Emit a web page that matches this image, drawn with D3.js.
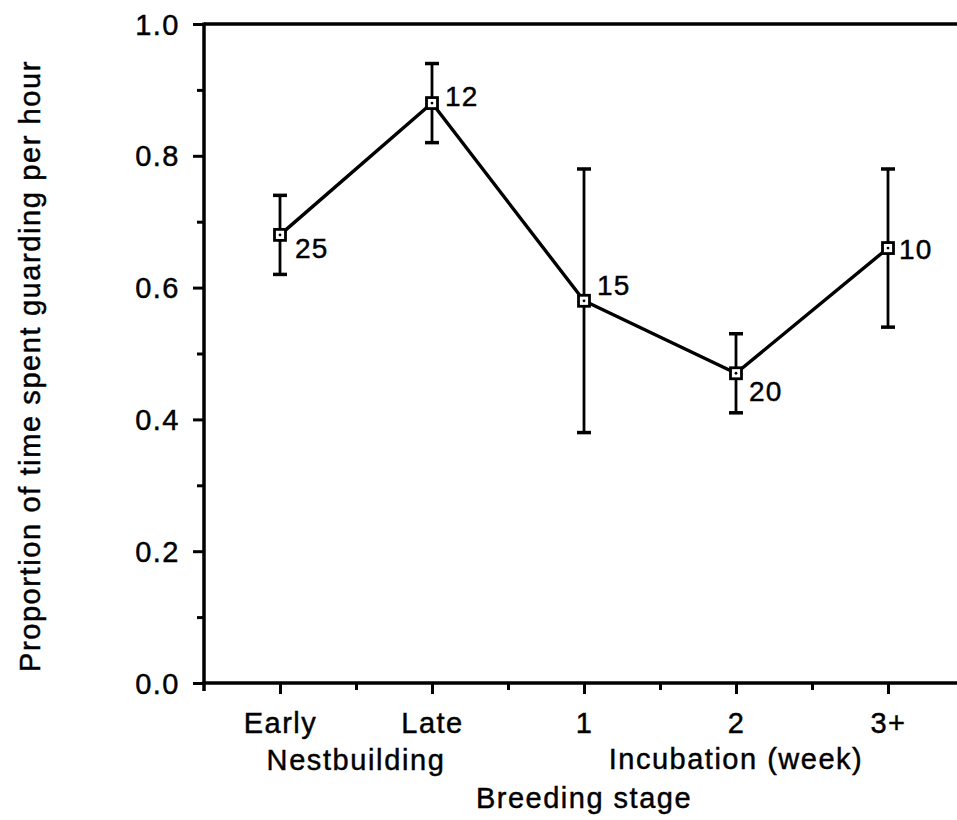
<!DOCTYPE html>
<html>
<head>
<meta charset="utf-8">
<script src="https://cdn.jsdelivr.net/npm/d3@7"></script>
<style>
  html, body { margin: 0; padding: 0; background: #fff; }
  svg { display: block; }
  text { font-family: "Liberation Sans", Arial, Helvetica, sans-serif; fill: #000; stroke: #000; stroke-width: 0.45px; }
</style>
</head>
<body>
<svg id="chart" width="957" height="820"></svg>
<script>
// Breeding stages along the x axis
const stages = ["Early", "Late", "1", "2", "3+"];
// Mean proportion of time spent guarding per hour
const meanGuard = [0.68, 0.88, 0.58, 0.47, 0.66];
// Error bar limits
const upper = [0.74, 0.94, 0.78, 0.53, 0.78];
const lower = [0.62, 0.82, 0.38, 0.41, 0.54];
// Sample sizes written beside each point
const sampleN = ["25", "12", "15", "20", "10"];
// Y tick labels
const yTicks = [0.0, 0.2, 0.4, 0.6, 0.8, 1.0];

const svg = d3.select("#chart");
const FONT = 29;

const x = d3.scaleLinear().domain([-0.5, 4.5]).range([204, 964]);
const y = d3.scaleLinear().domain([0, 1]).range([683, 24]);

// label offsets per point (dx, dy for text baseline)
const labelOff = [[15, 23], [13, 3], [13, -6], [13, 28], [11, 11]];

const g = svg.append("g");

// top frame line
g.append("line")
  .attr("x1", x(-0.5)).attr("x2", 957)
  .attr("y1", y(1)).attr("y2", y(1))
  .attr("stroke", "#000").attr("stroke-width", 3.5);

// y axis with major ticks
const yAxis = d3.axisLeft(y).tickValues(yTicks).tickFormat(d3.format(".1f"))
  .tickSize(11).tickPadding(13);
const yg = g.append("g").attr("transform", `translate(${x(-0.5)},0)`).call(yAxis);
yg.select(".domain").attr("stroke-width", 3.5).attr("d", `M0,${y(1) - 1.5}V${y(0) + 8}`);
yg.selectAll(".tick line").attr("stroke-width", 3);
yg.selectAll(".tick text").attr("font-size", FONT)
  .style("letter-spacing", "1.5px").attr("dy", "0.35em");
// minor y ticks
const yMinor = d3.axisLeft(y).tickValues([0.1, 0.3, 0.5, 0.7, 0.9]).tickSize(7).tickFormat("");
const ym = g.append("g").attr("transform", `translate(${x(-0.5)},0)`).call(yMinor);
ym.select(".domain").remove();
ym.selectAll(".tick line").attr("stroke-width", 3);

// x axis with category ticks
const xAxis = d3.axisBottom(x).tickValues(d3.range(stages.length))
  .tickFormat(i => stages[i]).tickSize(11).tickPadding(18);
const xg = g.append("g").attr("transform", `translate(0,${y(0)})`).call(xAxis);
xg.select(".domain").attr("stroke-width", 3.5).attr("d", `M${x(-0.5) - 1.5},0H957`);
xg.selectAll(".tick line").attr("stroke-width", 3);
xg.selectAll(".tick text").attr("font-size", FONT)
  .style("letter-spacing", "1.5px");
// minor x ticks
const xMinor = d3.axisBottom(x).tickValues([0.5, 1.5, 2.5, 3.5]).tickSize(7).tickFormat("");
const xm = g.append("g").attr("transform", `translate(0,${y(0)})`).call(xMinor);
xm.select(".domain").remove();
xm.selectAll(".tick line").attr("stroke-width", 3);

// group labels under the categories
g.append("text").attr("x", (x(0) + x(1)) / 2).attr("y", 770)
  .attr("text-anchor", "middle").attr("font-size", FONT).style("letter-spacing", "1.6px")
  .text("Nestbuilding");
g.append("text").attr("x", x(3)).attr("y", 769)
  .attr("text-anchor", "middle").attr("font-size", FONT).style("letter-spacing", "1.5px")
  .text("Incubation (week)");
g.append("text").attr("x", x(2)).attr("y", 808)
  .attr("text-anchor", "middle").attr("font-size", FONT).style("letter-spacing", "1.5px")
  .text("Breeding stage");

// y axis title
g.append("text")
  .attr("transform", `translate(40,366) rotate(-90)`)
  .attr("text-anchor", "middle").attr("font-size", FONT).style("letter-spacing", "1.6px")
  .text("Proportion of time spent guarding per hour");

const idx = d3.range(stages.length);

// error bars
const eb = g.append("g").attr("stroke", "#000").attr("stroke-width", 2.8);
eb.selectAll("line.v").data(idx).join("line").attr("class", "v")
  .attr("x1", i => x(i)).attr("x2", i => x(i))
  .attr("y1", i => y(upper[i])).attr("y2", i => y(lower[i]));
eb.selectAll("line.ct").data(idx).join("line").attr("class", "ct")
  .attr("x1", i => x(i) - 7).attr("x2", i => x(i) + 7)
  .attr("y1", i => y(upper[i])).attr("y2", i => y(upper[i])).attr("stroke-width", 3.5);
eb.selectAll("line.cb").data(idx).join("line").attr("class", "cb")
  .attr("x1", i => x(i) - 7).attr("x2", i => x(i) + 7)
  .attr("y1", i => y(lower[i])).attr("y2", i => y(lower[i])).attr("stroke-width", 3.5);

// connecting line
const line = d3.line().x(i => x(i)).y(i => y(meanGuard[i]));
g.append("path").datum(idx).attr("d", line)
  .attr("fill", "none").attr("stroke", "#000").attr("stroke-width", 3.4)
  .attr("stroke-linejoin", "round");

// square markers with a centre dot
g.selectAll("rect.mk").data(idx).join("rect").attr("class", "mk")
  .attr("x", i => x(i) - 5.5).attr("y", i => y(meanGuard[i]) - 5.5)
  .attr("width", 11).attr("height", 11)
  .attr("fill", "#fff").attr("stroke", "#000").attr("stroke-width", 2.8);
g.selectAll("circle.dot").data(idx).join("circle").attr("class", "dot")
  .attr("cx", i => x(i)).attr("cy", i => y(meanGuard[i])).attr("r", 1.4)
  .attr("fill", "#000");

// sample size labels
g.selectAll("text.n").data(idx).join("text").attr("class", "n")
  .attr("x", i => x(i) + labelOff[i][0]).attr("y", i => y(meanGuard[i]) + labelOff[i][1])
  .attr("font-size", FONT - 1).style("letter-spacing", "1.2px")
  .text(i => sampleN[i]);
</script>
</body>
</html>
